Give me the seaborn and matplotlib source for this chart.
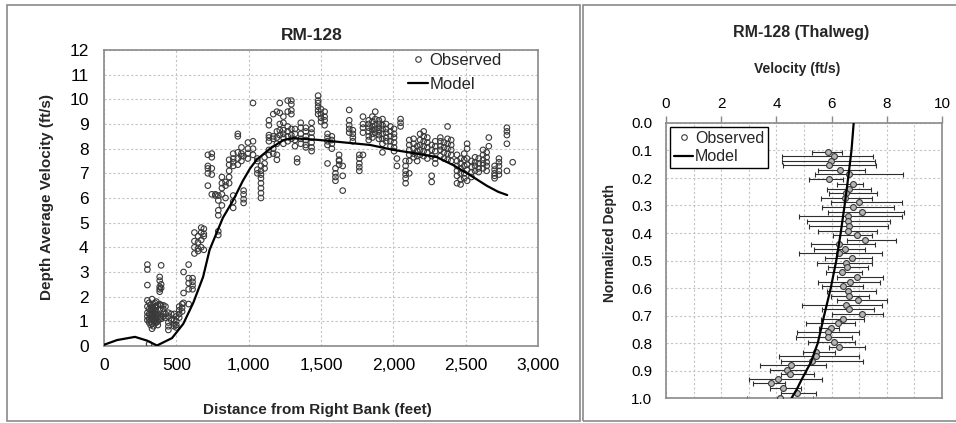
import numpy as np
import pandas as pd
import matplotlib
matplotlib.use("Agg")
import matplotlib.pyplot as plt
from matplotlib.lines import Line2D
from matplotlib.patches import Rectangle
from matplotlib.ticker import MultipleLocator, StrMethodFormatter
import seaborn as sns

# ---------------- cross-section survey (left panel) ----------------
# ADCP stations: distance from right bank (ft) and the depth-averaged
# velocities (ft/s) measured at each station
station_dist = [
    300, 312, 322, 332, 342, 352, 362, 372,
    385, 395, 410, 425, 445, 465,
    485, 500, 520, 540, 550,
    585, 612, 625, 650, 672, 690,
    718, 745, 770, 790,
    815, 840, 865, 893,
    925, 950, 965, 995, 1030,
    1060, 1085, 1110,
    1140, 1170, 1195,
    1215, 1240, 1270, 1295, 1320, 1335,
    1360, 1395, 1435,
    1480, 1500, 1525,
    1545, 1575, 1600, 1625, 1650,
    1695, 1720, 1765, 1790,
    1830, 1855, 1875, 1900, 1925, 1950,
    1980, 2005, 2025, 2050,
    2085, 2110, 2140, 2165, 2185,
    2210, 2235, 2265, 2290,
    2325, 2350, 2375, 2400,
    2440, 2465, 2490, 2510, 2540, 2565,
    2590, 2620, 2645, 2660,
    2700, 2730, 2785, 2825,
]
station_vel = [
    [1.85, 1.6, 1.35, 1.2, 1.05, 3.3, 3.1, 2.47],
    [1.75, 1.5, 1.3, 1.1, 0.95, 0.08],
    [1.65, 1.45, 1.3, 1.15, 1.0, 0.85],
    [1.9, 1.55, 1.4, 1.25, 1.1, 0.9, 0.7],
    [1.7, 1.5, 1.35, 1.2, 1.05, 0.8],
    [1.6, 1.45, 1.3, 1.15, 0.95, 1.75],
    [1.8, 1.4, 1.25, 1.1, 0.95, 1.6],
    [1.65, 1.3, 1.2, 1.0, 0.85],
    [2.8, 2.65, 2.4, 2.3, 2.2, 1.7, 1.45, 1.1],
    [3.27, 2.5, 2.35, 1.65, 1.2, 1.1],
    [1.65, 1.5, 1.35, 1.2],
    [1.6, 1.3, 1.15],
    [1.35, 1.2, 0.95, 0.8, 0.65],
    [1.3, 1.05],
    [1.3, 1.05, 0.9, 0.8],
    [1.2, 1.0, 0.85, 0.75],
    [1.6, 1.45, 1.3, 1.15],
    [1.7, 1.55, 1.4],
    [3.0, 2.15, 1.75],
    [3.3, 2.75, 2.55, 2.3, 1.7],
    [2.75, 2.6, 2.45, 2.3],
    [4.6, 4.25, 4.0, 3.75],
    [4.45, 4.2, 3.95, 3.85],
    [4.8, 4.6, 4.3, 4.0],
    [4.75, 4.55, 4.45, 3.9],
    [7.75, 7.3, 7.2, 7.0, 6.5],
    [7.8, 7.65, 7.2, 6.95, 6.15],
    [6.15, 6.1],
    [5.9, 5.5, 5.3, 4.65, 4.5, 6.1],
    [6.85, 6.6, 6.4, 6.15, 5.7],
    [6.65, 6.5, 6.0],
    [7.55, 7.35, 7.1, 6.85, 6.6],
    [7.8, 7.6, 7.45, 7.3, 6.1, 5.85, 5.6],
    [8.6, 8.5, 7.85, 7.6, 7.35],
    [8.05, 7.8, 7.7, 7.5],
    [7.7, 6.3, 6.15, 5.95, 5.8],
    [8.25, 8.0, 7.8, 7.6],
    [9.85, 8.3, 8.0, 7.75],
    [7.6, 7.5, 7.15, 7.0],
    [7.3, 7.1, 6.95, 6.8, 6.6, 6.4, 6.2, 6.0],
    [7.65, 7.4, 7.2],
    [9.15, 8.95, 8.55, 8.45, 8.3, 7.95, 7.75],
    [9.4, 8.5, 8.4, 8.0, 7.8],
    [9.5, 8.7, 8.45, 8.2, 7.75, 7.55],
    [9.85, 9.45, 9.0, 8.75, 8.55],
    [9.3, 9.05, 8.75, 8.6, 8.45, 8.2],
    [9.95, 9.5, 8.9, 8.7, 8.5, 8.3],
    [9.95, 9.8, 9.55, 9.4, 8.8, 8.55, 8.4],
    [8.8, 8.6, 8.35, 8.1],
    [7.6, 7.45],
    [9.05, 8.85, 8.6, 8.4, 8.2],
    [8.85, 8.7, 8.5, 8.35, 8.15, 8.05],
    [9.05, 8.8, 8.65, 8.45, 8.25, 8.05, 7.9],
    [10.15, 9.95, 9.85, 9.7, 9.55, 9.4],
    [9.6, 9.4, 9.25, 9.1],
    [9.5, 9.3, 9.15, 8.95],
    [8.6, 8.45, 8.3, 8.15, 7.4],
    [8.5, 8.35, 8.2, 8.0],
    [7.2, 7.0, 6.85, 6.7],
    [7.75, 7.5, 7.35, 7.55],
    [7.3, 6.9, 6.3],
    [9.57, 9.15, 8.95, 8.8, 8.65],
    [8.75, 8.6, 8.45, 8.3],
    [7.75, 7.6, 7.4, 7.25, 7.1],
    [9.3, 9.0, 8.85, 8.65, 7.75],
    [9.15, 9.0, 8.85, 8.7, 8.5, 8.35],
    [9.3, 9.1, 8.9, 8.75, 8.6, 8.45],
    [9.5, 9.2, 8.95, 8.8, 8.65],
    [9.15, 9.0, 8.85, 8.7, 8.55, 8.4],
    [9.2, 8.95, 8.8, 8.6, 8.4, 8.2, 7.85],
    [9.0, 8.8, 8.65, 8.45, 8.3],
    [8.9, 8.7, 8.5, 8.3, 8.1],
    [8.8, 8.6, 8.45, 8.25, 8.05, 7.9],
    [7.6, 7.3],
    [9.2, 9.05, 8.9],
    [7.5, 7.3, 7.1, 6.95, 6.8, 6.6],
    [8.35, 8.15, 7.95, 7.75, 7.5, 7.0],
    [8.4, 8.2, 8.0, 7.8, 7.65],
    [8.1, 7.9, 7.7, 7.5],
    [8.6, 8.35, 8.15, 7.95, 7.75],
    [8.7, 8.5, 8.3, 8.1, 7.9, 7.7],
    [8.45, 8.25, 8.05, 7.85, 7.6],
    [8.15, 7.95, 7.7, 6.9, 6.65],
    [8.3, 8.1, 7.9, 7.6, 7.4],
    [8.45, 8.3, 8.1, 7.95, 7.7],
    [8.25, 8.05, 7.85, 7.6],
    [8.9, 8.4, 8.2, 8.0, 7.8, 7.55],
    [8.35, 8.15, 7.95, 7.75, 7.5],
    [7.75, 7.5, 7.3, 7.1, 6.9, 6.6],
    [7.6, 7.4, 7.2, 7.0, 6.75, 6.55],
    [7.8, 7.55, 7.3, 7.0, 6.8],
    [8.2, 8.0, 7.6, 7.35, 7.15, 6.7],
    [7.5, 7.25, 7.05, 6.85],
    [7.65, 7.45, 7.3, 7.1],
    [7.6, 7.4, 7.2, 7.05],
    [7.95, 7.75, 7.55, 7.4, 7.2],
    [7.85, 7.65, 7.45, 7.3, 7.1],
    [8.45, 8.1],
    [7.3, 7.15, 7.0, 6.9, 6.8],
    [7.6, 7.45, 7.3, 7.1, 6.95],
    [8.85, 8.7, 8.55, 8.2, 7.1],
    [7.45],
]

# Modelled depth-averaged velocity across the section
model_dist = [0, 90, 214, 297, 366, 470, 548, 617, 685, 730, 822, 892, 960,
              1010, 1055, 1148, 1240, 1308, 1425, 1493, 1630, 1840, 2000,
              2163, 2300, 2415, 2530, 2645, 2725, 2787]
model_vel = [0.05, 0.24, 0.37, 0.22, 0.02, 0.32, 0.9, 1.75, 2.8, 3.9, 5.2,
             5.9, 6.7, 7.2, 7.55, 8.0, 8.35, 8.42, 8.38, 8.35, 8.27, 8.15,
             7.95, 7.8, 7.66, 7.33, 6.93, 6.5, 6.25, 6.12]

# ---------------- thalweg vertical profile (right panel) ----------------
thal_depth = [0.104, 0.120, 0.137, 0.153, 0.171, 0.187, 0.205, 0.222, 0.240,
              0.253, 0.272, 0.289, 0.307, 0.322, 0.337, 0.355, 0.373, 0.392,
              0.407, 0.425, 0.440, 0.458, 0.474, 0.492, 0.508, 0.525, 0.542,
              0.560, 0.577, 0.593, 0.610, 0.628, 0.644, 0.662, 0.677, 0.696,
              0.713, 0.728, 0.744, 0.761, 0.779, 0.795, 0.813, 0.832, 0.846,
              0.864, 0.880, 0.898, 0.914, 0.932, 0.947, 0.965, 0.981, 0.999]
thal_vel = [5.88, 6.09, 5.97, 5.91, 6.30, 6.64, 5.91, 6.76, 6.63, 6.51, 6.49,
            7.00, 6.79, 7.09, 6.58, 6.60, 6.64, 6.58, 6.91, 7.21, 6.28, 6.49,
            6.28, 6.75, 6.51, 6.55, 6.37, 6.92, 6.67, 6.40, 6.58, 6.63, 6.97,
            6.51, 6.64, 7.09, 6.43, 6.24, 5.97, 5.86, 5.86, 6.09, 6.27, 5.42,
            5.43, 5.30, 4.52, 4.37, 4.49, 4.07, 3.80, 4.23, 4.73, 4.13]
thal_lo = [5.28, 4.19, 4.21, 4.25, 5.50, 5.40, 5.19, 6.18, 5.85, 5.92, 5.62,
           5.97, 5.64, 5.88, 4.83, 5.10, 5.17, 5.52, 6.06, 6.54, 5.25, 5.37,
           4.82, 5.76, 5.46, 5.88, 5.78, 6.21, 5.50, 5.64, 5.82, 5.97, 6.21,
           4.93, 5.67, 6.00, 5.60, 5.08, 5.56, 4.74, 4.71, 5.13, 5.91, 4.98,
           4.10, 4.18, 3.42, 3.75, 4.15, 3.00, 3.15, 3.75, 4.17, 2.92]
thal_hi = [6.39, 7.51, 7.57, 7.60, 7.21, 8.60, 6.42, 7.15, 7.42, 7.64, 7.46,
           8.54, 8.26, 8.62, 8.54, 8.12, 8.06, 7.66, 7.45, 8.35, 7.57, 7.20,
           7.81, 7.48, 7.48, 7.33, 7.09, 7.85, 7.75, 7.15, 7.60, 7.36, 8.00,
           7.82, 7.55, 7.87, 7.17, 6.84, 6.26, 7.00, 6.73, 6.84, 7.21, 6.11,
           7.00, 7.12, 5.80, 5.07, 5.36, 5.66, 4.32, 4.90, 5.45, 5.34]

profile_depth = [0.0, 0.1, 0.2, 0.3, 0.4, 0.5, 0.6, 0.7, 0.8, 0.87, 0.93, 0.97, 1.0]
profile_vel = [6.8, 6.72, 6.6, 6.47, 6.33, 6.17, 5.97, 5.73, 5.5, 5.25, 4.93, 4.73, 4.55]

# ---------------- styling ----------------
sns.set_style("white")
plt.rcParams["font.family"] = ["Liberation Sans", "DejaVu Sans"]

W, H = 956, 423
fig = plt.figure(figsize=(W / 100, H / 100), dpi=100)


def fx(px):
    return px / W


def fy(py):
    return 1 - py / H


SPINE = "#8a8a8a"
GRID = "#c4c4c4"

# panel frames
fig.patches.append(Rectangle((fx(7), fy(421)), fx(580) - fx(7), fy(5) - fy(421),
                             transform=fig.transFigure, fill=False,
                             edgecolor=SPINE, lw=1.2))
fig.patches.append(Rectangle((fx(583), fy(421)), fx(962) - fx(583), fy(5) - fy(421),
                             transform=fig.transFigure, fill=False,
                             edgecolor=SPINE, lw=1.2))

# ---------------- left: cross-section ----------------
obs = pd.DataFrame({
    "dist": np.concatenate([[d] * len(v) for d, v in zip(station_dist, station_vel)]),
    "vel": np.concatenate([v for v in station_vel]),
})
model = pd.DataFrame({"dist": model_dist, "vel": model_vel})

ax1 = fig.add_axes([fx(104), fy(346), fx(538) - fx(104), fy(50) - fy(346)])
sns.scatterplot(data=obs, x="dist", y="vel", ax=ax1, marker="o", s=16,
                facecolors="none", edgecolor="#3a3a3a", linewidth=0.8,
                legend=False, zorder=3)
sns.lineplot(data=model, x="dist", y="vel", ax=ax1, color="black", lw=1.6,
             sort=False, estimator=None, legend=False, zorder=4)

ax1.set_xlim(0, 3000)
ax1.set_ylim(0, 12)
ax1.xaxis.set_major_locator(MultipleLocator(500))
ax1.yaxis.set_major_locator(MultipleLocator(1))
ax1.xaxis.set_major_formatter(StrMethodFormatter("{x:,.0f}"))
ax1.grid(True, color=GRID, ls=(0, (2, 2)), lw=0.8)
ax1.set_axisbelow(True)
ax1.set_xlabel("")
ax1.set_ylabel("")
for s in ax1.spines.values():
    s.set_color(SPINE)
    s.set_linewidth(1.2)
ax1.tick_params(axis="both", which="major", length=5, width=1, color=SPINE,
                labelsize=12.5, labelcolor="black", direction="out")
ax1.tick_params(axis="x", pad=4)
ax1.tick_params(axis="y", pad=6)

h_obs = Line2D([], [], marker="o", ls="none", ms=4, mfc="none",
               mec="#3a3a3a", mew=0.8)
h_mod = Line2D([], [], color="black", lw=1.6)
ax1.legend([h_obs, h_mod], ["Observed", "Model"], loc="upper left",
           bbox_to_anchor=(fx(408), fy(53)), bbox_transform=fig.transFigure,
           frameon=False, fontsize=12, handlelength=1.2, handletextpad=0.1,
           labelspacing=0.55, borderpad=0, borderaxespad=0)

fig.text(fx(312), fy(35), "RM-128", ha="center", va="center",
         fontsize=12.5, fontweight="bold")
fig.text(fx(317), fy(410), "Distance from Right Bank (feet)", ha="center",
         va="center", fontsize=11, fontweight="bold")
fig.text(fx(47), fy(197), "Depth Average Velocity (ft/s)", ha="center",
         va="center", rotation=90, fontsize=11, fontweight="bold")

# ---------------- right: thalweg profile ----------------
prof = pd.DataFrame({"vel": profile_vel, "depth": profile_depth})
thal = pd.DataFrame({"vel": thal_vel, "depth": thal_depth})

ax2 = fig.add_axes([fx(666), fy(398), fx(942) - fx(666), fy(123) - fy(398)])
xerr = [np.subtract(thal_vel, thal_lo), np.subtract(thal_hi, thal_vel)]
ax2.errorbar(thal_vel, thal_depth, xerr=xerr, fmt="none", ecolor="#2e2e2e",
             elinewidth=0.8, capsize=1.8, capthick=0.8, zorder=2)
sns.scatterplot(data=thal, x="vel", y="depth", ax=ax2, marker="o", s=18,
                color="#b5b5b5", edgecolor="#3a3a3a", linewidth=0.8,
                legend=False, zorder=3)
sns.lineplot(data=prof, x="vel", y="depth", ax=ax2, orient="y", sort=False,
             estimator=None, color="black", lw=1.6, legend=False, zorder=4)

ax2.set_xlim(0, 10)
ax2.set_ylim(1.0, 0.0)
ax2.xaxis.set_major_locator(MultipleLocator(2))
ax2.xaxis.set_minor_locator(MultipleLocator(1))
ax2.yaxis.set_major_locator(MultipleLocator(0.1))
ax2.yaxis.set_major_formatter(StrMethodFormatter("{x:.1f}"))
ax2.xaxis.tick_top()
ax2.grid(True, which="both", color=GRID, ls=(0, (2, 2)), lw=0.8)
ax2.set_axisbelow(True)
ax2.set_xlabel("")
ax2.set_ylabel("")
for s in ax2.spines.values():
    s.set_color(SPINE)
    s.set_linewidth(1.2)
ax2.tick_params(axis="both", which="major", length=5, width=1, color=SPINE,
                labelsize=11, labelcolor="black", direction="out")
ax2.tick_params(axis="x", which="minor", length=0)
ax2.tick_params(axis="x", pad=4)
ax2.tick_params(axis="y", pad=5)

h_obs2 = Line2D([], [], marker="o", ls="none", ms=4, mfc="none",
                mec="#3a3a3a", mew=0.8)
leg2 = ax2.legend([h_obs2, h_mod], ["Observed", "Model"], loc="upper left",
                  bbox_to_anchor=(fx(670), fy(127)),
                  bbox_transform=fig.transFigure, frameon=True, fancybox=False,
                  fontsize=11.5, handlelength=1.2, handletextpad=0.1,
                  labelspacing=0.2, borderpad=0.25, borderaxespad=0)
leg2.get_frame().set_edgecolor("black")
leg2.get_frame().set_linewidth(1.0)
leg2.get_frame().set_alpha(1)

fig.text(fx(801), fy(32), "RM-128 (Thalweg)", ha="center", va="center",
         fontsize=11.5, fontweight="bold")
fig.text(fx(797), fy(69), "Velocity (ft/s)", ha="center", va="center",
         fontsize=10, fontweight="bold")
fig.text(fx(610), fy(243), "Normalized Depth", ha="center", va="center",
         rotation=90, fontsize=10, fontweight="bold")

fig.savefig("out.png", dpi=100)
